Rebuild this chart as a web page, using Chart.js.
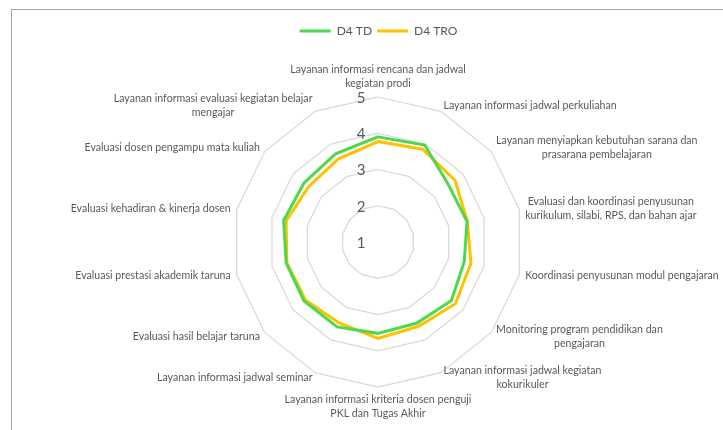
<!DOCTYPE html>
<html>
<head>
<meta charset="utf-8">
<script src="https://cdn.jsdelivr.net/npm/chart.js@4/dist/chart.umd.min.js"></script>
<style>
    html, body { margin: 0; padding: 0; background: #fff; }
    #wrap { position: relative; width: 723px; height: 430px; overflow: hidden; }
    #frame { position: absolute; left: 11px; top: 9px; width: 800px; height: 500px;
             border-left: 1px solid #a6a6a6; border-top: 1px solid #a6a6a6; }
    canvas { position: absolute; left: 0; top: 0; }
</style>
</head>
<body>
<div id="wrap">
    <div id="frame"></div>
    <canvas id="chart" width="723" height="430"></canvas>
</div>
<script>
// =========================================================
// Data
// =========================================================

const categories = [
    ['Layanan informasi rencana dan jadwal', 'kegiatan prodi'],
    ['Layanan informasi jadwal perkuliahan'],
    ['Layanan menyiapkan kebutuhan sarana dan', 'prasarana pembelajaran'],
    ['Evaluasi dan koordinasi penyusunan', 'kurikulum, silabi, RPS, dan bahan ajar'],
    ['Koordinasi penyusunan modul pengajaran'],
    ['Monitoring program pendidikan dan', 'pengajaran'],
    ['Layanan informasi jadwal kegiatan', 'kokurikuler'],
    ['Layanan informasi kriteria dosen penguji', 'PKL dan Tugas Akhir'],
    ['Layanan informasi jadwal seminar'],
    ['Evaluasi hasil belajar taruna'],
    ['Evaluasi prestasi akademik taruna'],
    ['Evaluasi kehadiran & kinerja dosen'],
    ['Evaluasi dosen pengampu mata kuliah'],
    ['Layanan informasi evaluasi kegiatan belajar', 'mengajar'],
];

const seriesNames = ['D4 TD', 'D4 TRO'];

const valuesTD  = [3.90, 3.97, 3.50, 3.52, 3.44, 3.59, 3.48, 3.52, 3.60, 3.61, 3.60, 3.67, 3.61, 3.70];
const valuesTRO = [3.77, 3.84, 3.72, 3.53, 3.63, 3.73, 3.58, 3.66, 3.48, 3.56, 3.58, 3.60, 3.45, 3.54];

const axisMin  = 1;
const axisMax  = 5;
const axisStep = 1;

// =========================================================
// Layout / style
// =========================================================

const GREEN  = '#4cd94c';
const ORANGE = '#ffc000';
const TEXT   = '#595959';
const GRID   = '#d9d9d9';

const RADAR = { x: 378, y: 242, r: 145 };
const LABEL_FONT = '10.6px Lato';
const LINE_H = 14;

// Excel-like point labels and tick labels, placed from the scale
const excelLabels = {
    id: 'excelLabels',
    afterDraw(chart) {
        const scale = chart.scales.r;
        const ctx = chart.ctx;
        const n = categories.length;

        ctx.save();
        ctx.fillStyle = TEXT;
        ctx.textAlign = 'center';
        ctx.textBaseline = 'middle';
        ctx.font = LABEL_FONT;

        categories.forEach((lines, i) => {
            const p = scale.getPointPosition(i, scale.drawingArea + 6);
            const deg = i * 360 / n;
            const w = Math.max(...lines.map(l => ctx.measureText(l).width));
            const h = lines.length * LINE_H;
            let left, top;
            if (deg === 0)        { left = p.x - w / 2; top = p.y - h; }
            else if (deg === 180) { left = p.x - w / 2; top = p.y; }
            else {
                left = deg < 180 ? p.x : p.x - w;
                top  = p.y - h / 2;
            }
            lines.forEach((l, j) => ctx.fillText(l, left + w / 2, top + LINE_H / 2 + j * LINE_H));
        });

        ctx.font = '15px Lato';
        scale.ticks.forEach(t => {
            const d = scale.getDistanceFromCenterForValue(t.value);
            ctx.fillText(t.label, scale.xCenter - 17, scale.yCenter - d + 1);
        });
        ctx.restore();
    }
};

// =========================================================
// Chart
// =========================================================

new Chart(document.getElementById('chart'), {
    type: 'radar',
    data: {
        labels: categories,
        datasets: [
            { label: seriesNames[0], data: valuesTD,  borderColor: GREEN,  backgroundColor: GREEN,
              borderWidth: 3, pointRadius: 0, fill: false, borderJoinStyle: 'miter' },
            { label: seriesNames[1], data: valuesTRO, borderColor: ORANGE, backgroundColor: ORANGE,
              borderWidth: 3, pointRadius: 0, fill: false, borderJoinStyle: 'miter' },
        ],
    },
    options: {
        responsive: false,
        animation: false,
        layout: { padding: { top: 20, left: 34 } },
        plugins: {
            tooltip: { enabled: false },
            legend: {
                position: 'top',
                labels: {
                    usePointStyle: true, pointStyle: 'line', pointStyleWidth: 31,
                    color: TEXT, font: { family: 'Lato', size: 12 }, padding: 5,
                },
            },
        },
        scales: {
            r: {
                min: axisMin, max: axisMax,
                ticks: { stepSize: axisStep, display: false },
                grid: { color: GRID, lineWidth: 1.25 },
                angleLines: { display: false },
                pointLabels: { display: false },
                afterFit(scale) {
                    scale.xCenter = RADAR.x;
                    scale.yCenter = RADAR.y;
                    scale.drawingArea = RADAR.r;
                },
            },
        },
    },
    plugins: [excelLabels],
});
</script>
</body>
</html>
